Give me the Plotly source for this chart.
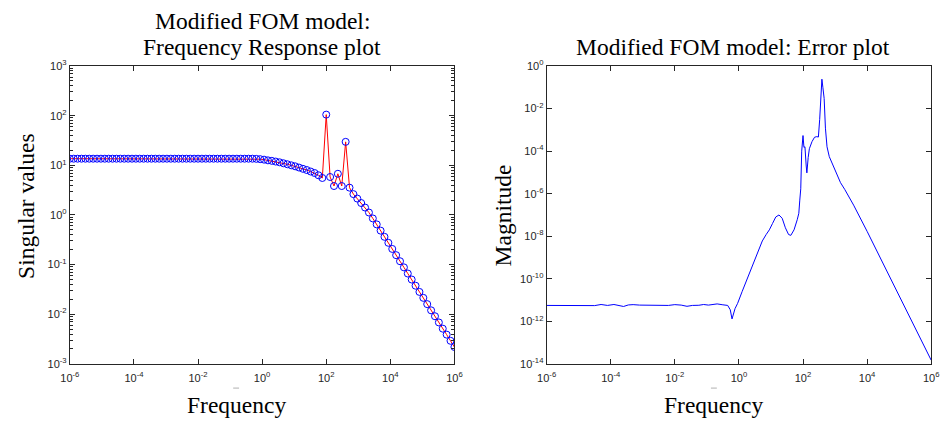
import numpy as np
import plotly.graph_objects as go

# ---------------- data ----------------
# Left: singular values sampled on 100 log-spaced frequencies (1e-6 .. 1e6)
sv_freq = np.logspace(-6, 6, 100)
sv_values = [
    13.6, 13.6, 13.6, 13.6, 13.6, 13.6, 13.6, 13.6, 13.6, 13.6,
    13.6, 13.6, 13.6, 13.6, 13.6, 13.6, 13.6, 13.6, 13.6, 13.6,
    13.6, 13.6, 13.6, 13.6, 13.6, 13.6, 13.6, 13.6, 13.6, 13.6,
    13.6, 13.6, 13.6, 13.6, 13.6, 13.6, 13.6, 13.6, 13.6, 13.6,
    13.6, 13.6, 13.6, 13.6, 13.6, 13.6, 13.6, 13.6, 13.5, 13.3,
    13.0, 12.6, 12.3, 11.9, 11.5, 11.0, 10.5, 10.0, 9.55, 9.02,
    8.51, 8.04, 7.50, 7.00, 6.31, 5.56, 105.0, 5.82, 3.83, 6.76,
    3.83, 29.7, 3.55, 2.63, 2.14, 1.74, 1.41, 1.12, 0.851, 0.646,
    0.484, 0.363, 0.275, 0.207, 0.155, 0.117, 0.0881, 0.0661, 0.0501, 0.0376,
    0.0282, 0.0214, 0.0160, 0.0120, 0.00912, 0.00684, 0.00513, 0.00389, 0.00292, 0.00219,
]

# Right: error magnitude
err_freq = [
    1.0e-6, 1.0e-5, 3.16e-5, 5.0e-5, 7.94e-5, 1.26e-4, 1.78e-4, 2.51e-4, 3.55e-4, 5.01e-4,
    7.94e-4, 1.58e-3, 3.16e-3, 6.31e-3, 1.0e-2, 1.58e-2, 2.4e-2, 3.55e-2, 5.62e-2, 7.94e-2,
    0.112, 0.158, 0.209, 0.316, 0.447, 0.537, 0.61, 0.759, 0.912, 1.26,
    1.62, 2.24, 3.16, 4.17, 5.37, 7.08, 8.91, 11.2, 14.1, 17.8,
    22.4, 28.2, 35.5, 41.7, 52.5, 66.1, 74.1, 79.4, 85.1, 91.2,
    100.0, 107.0, 115.0, 126.0, 132.0, 145.0, 158.0, 191.0, 229.0, 269.0,
    302.0, 331.0, 363.0, 389.0, 417.0, 457.0, 501.0, 562.0, 661.0, 933.0,
    1480.0, 2000.0, 3800.0, 1.0e4, 3.16e4, 1.0e5, 3.16e5, 1.0e6,
]
err_mag = [
    5.6e-12, 5.6e-12, 5.5e-12, 6.2e-12, 5.6e-12, 6.2e-12, 5.7e-12, 5.0e-12, 5.9e-12, 6.1e-12,
    5.8e-12, 5.6e-12, 5.8e-12, 5.6e-12, 6.1e-12, 5.8e-12, 5.1e-12, 5.6e-12, 5.7e-12, 6.2e-12,
    5.8e-12, 6.3e-12, 6.6e-12, 6.0e-12, 5.6e-12, 3.5e-12, 1.3e-12, 4.0e-12, 7.0e-12, 2.5e-11,
    6.3e-11, 2.5e-10, 7.4e-10, 2.2e-9, 6.0e-9, 1.2e-8, 2.0e-8, 4.0e-8, 8.0e-8, 1.0e-7,
    7.0e-8, 2.5e-8, 1.2e-8, 1.1e-8, 2.0e-8, 6.0e-8, 1.2e-7, 5.0e-7, 1.7e-6, 1.0e-4,
    5.4e-4, 1.5e-4, 1.6e-4, 2.0e-5, 9.5e-6, 5.0e-5, 1.3e-4, 2.8e-4, 4.5e-4, 4.8e-4,
    4.6e-4, 3.0e-3, 6.0e-2, 2.4e-1, 1.0e-1, 3.0e-2, 1.2e-3, 1.6e-4, 5.5e-5, 1.7e-5,
    3.3e-6, 1.6e-6, 2.9e-7, 1.7e-8, 5.0e-10, 1.6e-11, 5.0e-13, 1.5e-14,
]

x_tickvals = [1e-6, 1e-4, 1e-2, 1e0, 1e2, 1e4, 1e6]
x_ticktext = ["10<sup>-6</sup>", "10<sup>-4</sup>", "10<sup>-2</sup>", "10<sup>0</sup>",
              "10<sup>2</sup>", "10<sup>4</sup>", "10<sup>6</sup>"]
yl_tickvals = [1e-3, 1e-2, 1e-1, 1e0, 1e1, 1e2, 1e3]
yl_ticktext = ["10<sup>-3</sup>", "10<sup>-2</sup>", "10<sup>-1</sup>", "10<sup>0</sup>",
               "10<sup>1</sup>", "10<sup>2</sup>", "10<sup>3</sup>"]
yl_minor = [m * 10.0 ** e for e in range(-3, 3) for m in range(2, 10)]
yr_tickvals = [1e-14, 1e-12, 1e-10, 1e-8, 1e-6, 1e-4, 1e-2, 1e0]
yr_ticktext = ["10<sup>-14</sup>", "10<sup>-12</sup>", "10<sup>-10</sup>", "10<sup>-8</sup>",
               "10<sup>-6</sup>", "10<sup>-4</sup>", "10<sup>-2</sup>", "10<sup>0</sup>"]

# ---------------- figure ----------------
W, H = 949, 426
fig = go.Figure()

fig.add_trace(go.Scatter(x=sv_freq, y=sv_values, mode="lines",
                         line=dict(color="#ff0000", width=1),
                         xaxis="x", yaxis="y", showlegend=False))
fig.add_trace(go.Scatter(x=sv_freq, y=sv_values, mode="markers",
                         marker=dict(symbol="circle-open", size=7,
                                     color="#0000ff", line=dict(width=1, color="#0000ff")),
                         xaxis="x", yaxis="y", showlegend=False))
fig.add_trace(go.Scatter(x=err_freq, y=err_mag, mode="lines",
                         line=dict(color="#0000ff", width=1),
                         xaxis="x2", yaxis="y2", showlegend=False))

tickfont = dict(family="Liberation Sans, Arial, sans-serif", size=11, color="#262626")
common = dict(type="log", showgrid=False, zeroline=False, showline=True,
              linecolor="#262626", linewidth=1, mirror="allticks",
              ticks="inside", ticklen=5, tickcolor="#262626", tickwidth=1,
              tickfont=tickfont)


def px_x(p):
    return p / W


def px_y(p):
    return 1 - p / H


fig.update_layout(
    width=W, height=H,
    margin=dict(l=0, r=0, t=0, b=0),
    paper_bgcolor="white", plot_bgcolor="white",
    xaxis=dict(common, domain=[px_x(61), px_x(453)], range=[-6, 6],
               tickmode="array", tickvals=x_tickvals, ticktext=x_ticktext,
               ticklabelstandoff=4, anchor="y"),
    yaxis=dict(common, domain=[px_y(368), px_y(60)], range=[-3, 3],
               tickmode="array", tickvals=yl_tickvals, ticktext=yl_ticktext,
               minor=dict(tickmode="array", tickvals=yl_minor, ticks="inside",
                          ticklen=3, tickcolor="#262626", showgrid=False),
               anchor="x"),
    xaxis2=dict(common, domain=[px_x(547), px_x(939)], range=[-6, 6],
                tickmode="array", tickvals=x_tickvals, ticktext=x_ticktext,
                ticklabelstandoff=4, anchor="y2"),
    yaxis2=dict(common, domain=[px_y(368), px_y(60)], range=[-14, 0],
                tickmode="array", tickvals=yr_tickvals, ticktext=yr_ticktext,
                anchor="x2"),
)

serif = dict(family="Liberation Serif, Times New Roman, serif", size=23.5, color="#000000")
ann = [
    dict(text="Modified FOM model:", x=px_x(257), y=px_y(13)),
    dict(text="Frequency Response plot", x=px_x(257), y=px_y(40)),
    dict(text="Modified FOM model: Error plot", x=px_x(737), y=px_y(40)),
    dict(text="Frequency", x=px_x(231), y=px_y(410)),
    dict(text="Frequency", x=px_x(717), y=px_y(410)),
    dict(text="Singular values", x=px_x(17), y=px_y(205), textangle=-90),
    dict(text="Magnitude", x=px_x(503), y=px_y(214), textangle=-90),
]
for a in ann:
    fig.add_annotation(xref="paper", yref="paper", showarrow=False,
                       xanchor="center", yanchor="middle", font=serif, **a)

# small grey dashes visible under the x tick labels in the reference
for cx in (230.5, 717.5):
    fig.add_shape(type="line", xref="paper", yref="paper",
                  x0=px_x(cx - 3), x1=px_x(cx + 3), y0=px_y(393), y1=px_y(393),
                  line=dict(color="#b0b0b0", width=1))

fig.write_html("out.html", config={"displayModeBar": False},
               post_script="document.body.style.margin='0px';")
